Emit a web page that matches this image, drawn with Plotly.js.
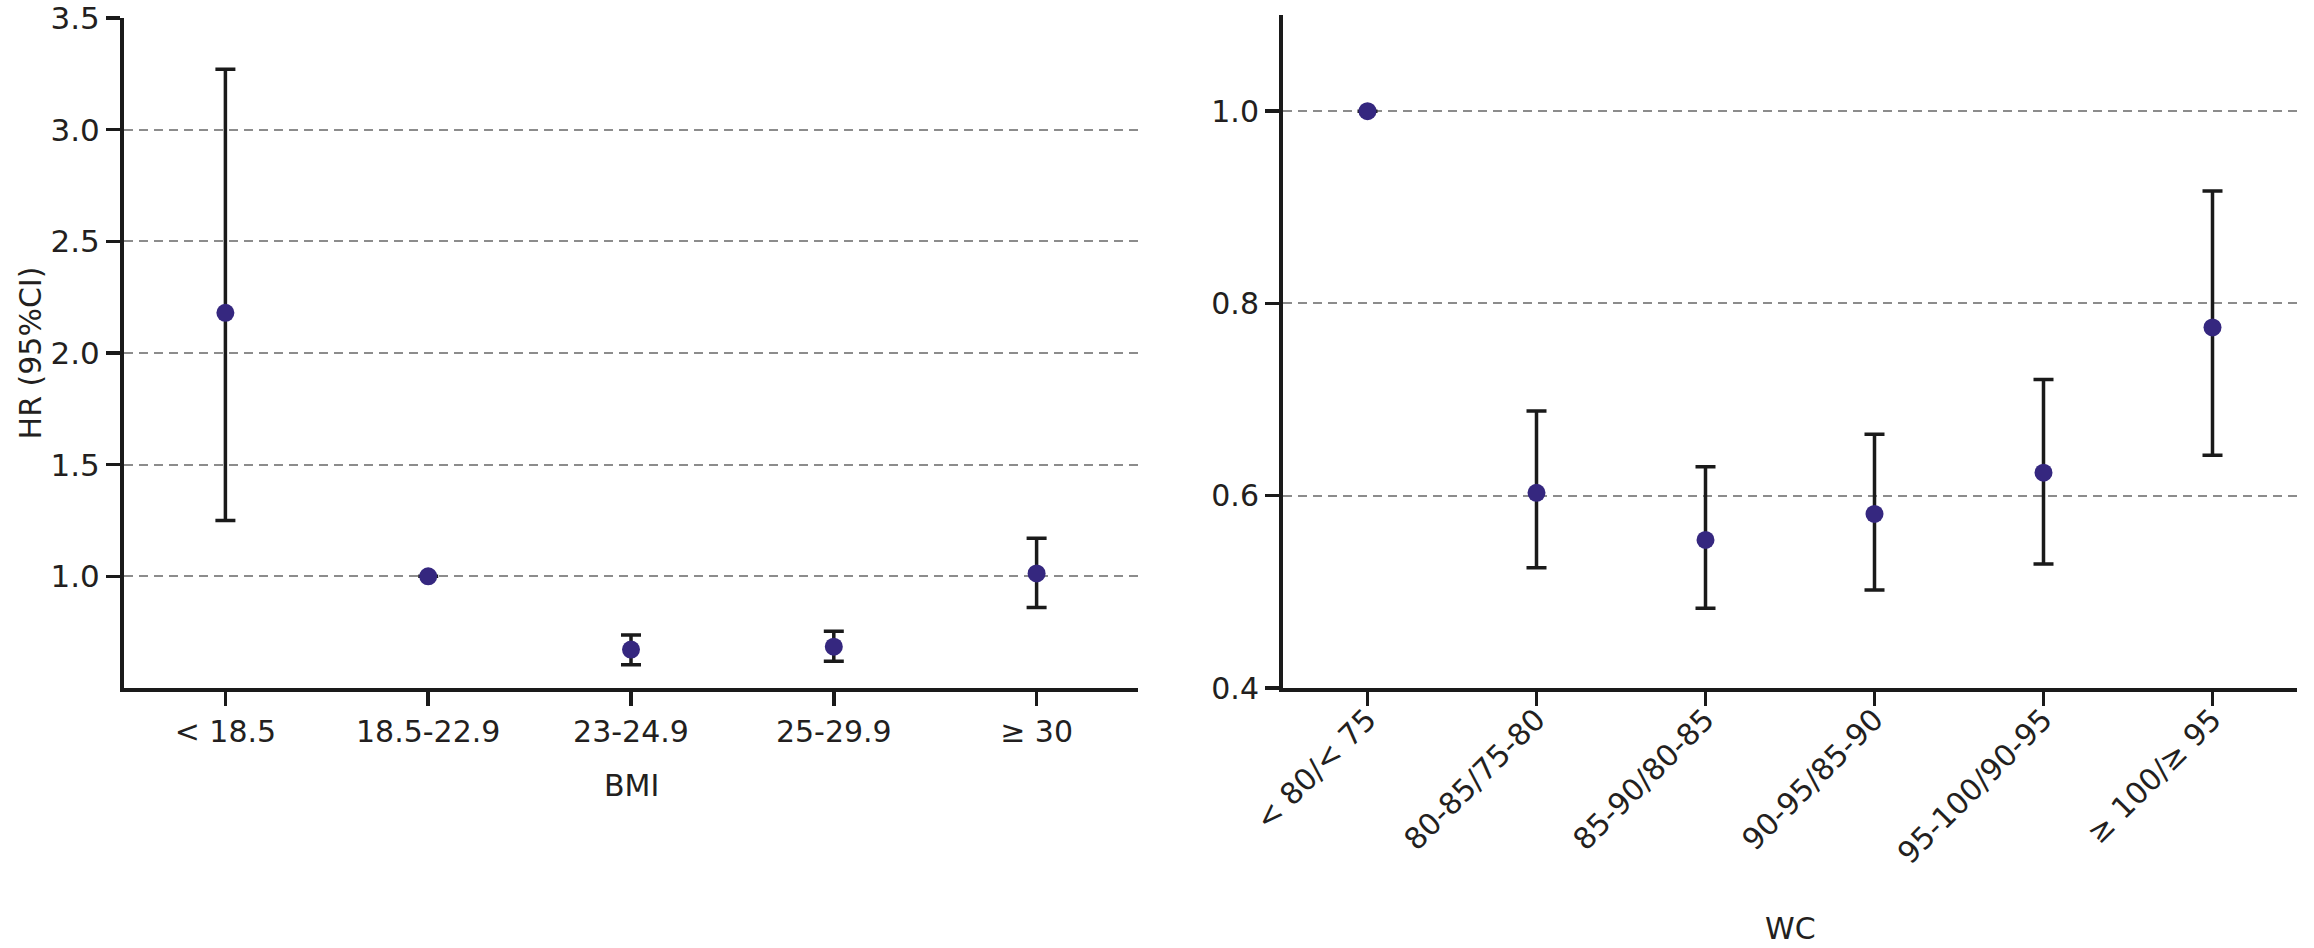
<!DOCTYPE html>
<html><head><meta charset="utf-8">
<script src="https://cdn.plot.ly/plotly-3.0.1.min.js"></script>
<style>html,body{margin:0;padding:0;background:#fff}#chart{width:2314px;height:948px}</style>
</head><body><div id="chart"></div>
<script>
const bmiCategories = ['< 18.5', '18.5-22.9', '23-24.9', '25-29.9', '≥ 30'];
const bmiHR    = [2.18, 1.00, 0.672, 0.685, 1.013];
const bmiUpper = [3.27, 1.00, 0.737, 0.754, 1.17];
const bmiLower = [1.25, 1.00, 0.604, 0.620, 0.86];

const wcCategories = ['< 80/< 75', '80-85/75-80', '85-90/80-85', '90-95/85-90', '95-100/90-95', '≥ 100/≥ 95'];
const wcHR    = [1.00, 0.603, 0.554, 0.581, 0.624, 0.775];
const wcUpper = [1.00, 0.688, 0.630, 0.664, 0.721, 0.917];
const wcLower = [1.00, 0.525, 0.483, 0.502, 0.529, 0.642];

const bmiTickVals = [1.0, 1.5, 2.0, 2.5, 3.0, 3.5];
const bmiGridVals = [1.0, 1.5, 2.0, 2.5, 3.0];
const wcTickVals = [0.4, 0.6, 0.8, 1.0];

const W = 2314, H = 948;
const markerColor = '#35277f';
const ink = '#1a1a1a';
const txt = '#231f20';
const FONT = 'DejaVu Sans';

function errTrace(cats, hr, up, lo, xa, ya) {
  return {
    type: 'scatter', mode: 'markers', x: cats, y: hr, xaxis: xa, yaxis: ya,
    marker: {color: markerColor, size: 18},
    error_y: {type: 'data', symmetric: false,
      array: up.map((u, i) => u - hr[i]),
      arrayminus: lo.map((l, i) => hr[i] - l),
      color: ink, thickness: 3.5, width: 10},
    hoverinfo: 'x+y', cliponaxis: false
  };
}

const traces = [
  errTrace(bmiCategories, bmiHR, bmiUpper, bmiLower, 'x', 'y'),
  errTrace(wcCategories, wcHR, wcUpper, wcLower, 'x2', 'y2'),
  {type: 'scatter', mode: 'markers', x: [], y: [], xaxis: 'x', yaxis: 'y3', hoverinfo: 'skip'}
];

const L = 124, R = W - 2297, T = 15, B = H - 688;
const PW = W - L - R, PH = H - T - B;

const axisCommon = {
  showline: true, linecolor: ink, linewidth: 4,
  ticks: 'outside', ticklen: 14, tickwidth: 3.5, tickcolor: ink,
  zeroline: false, automargin: false, fixedrange: true,
  ticklabeloverflow: 'allow'
};
const gridStyle = {gridcolor: '#8c8c8c', gridwidth: 2, griddash: '9px,6px'};
const titleFont = {family: FONT, size: 30, color: txt};

const layout = {
  width: W, height: H,
  margin: {l: L, r: R, t: T, b: B},
  paper_bgcolor: '#ffffff', plot_bgcolor: 'rgba(0,0,0,0)',
  showlegend: false,
  font: {family: FONT, size: 30, color: txt},
  xaxis: Object.assign({}, axisCommon, {
    domain: [0, (1138 - L) / PW], anchor: 'y', type: 'category',
    range: [-0.5, 4.5], showgrid: false,
    tickfont: {family: FONT, size: 30, color: txt}
  }),
  yaxis: Object.assign({}, axisCommon, {
    domain: [0, 1 - (18 - T) / PH], anchor: 'x',
    range: [0.5, 3.5], tickvals: bmiTickVals, tickformat: '.1f', showgrid: false,
    tickfont: {family: FONT, size: 31, color: txt},
    title: {text: 'HR (95%CI)', font: titleFont}
  }),
  yaxis3: Object.assign({}, gridStyle, {
    overlaying: 'y', anchor: 'x', range: [0.5, 3.5], tickvals: bmiGridVals,
    showgrid: true, showticklabels: false, ticks: '', showline: false, zeroline: false, fixedrange: true
  }),
  xaxis2: Object.assign({}, axisCommon, {
    domain: [(1283 - L) / PW, 1], anchor: 'y2', type: 'category',
    range: [-0.5, 5.5], showgrid: false, tickangle: -45, ticklabelstandoff: -16,
    tickfont: {family: FONT, size: 30, color: txt}
  }),
  yaxis2: Object.assign({}, axisCommon, gridStyle, {
    domain: [0, 1], anchor: 'x2',
    range: [0.4, 1.1], tickvals: wcTickVals, tickformat: '.1f', showgrid: true,
    tickfont: {family: FONT, size: 30, color: txt}
  }),
  annotations: [
    {text: 'BMI', xref: 'x domain', x: 0.5, yref: 'paper', y: -(785 - 688) / PH,
     xanchor: 'center', yanchor: 'middle', showarrow: false, font: titleFont},
    {text: 'WC', xref: 'x2 domain', x: 0.5, yref: 'paper', y: -(928 - 688) / PH,
     xanchor: 'center', yanchor: 'middle', showarrow: false, font: titleFont}
  ]
};

Plotly.newPlot('chart', traces, layout, {displayModeBar: false, staticPlot: true});
</script>
</body></html>
